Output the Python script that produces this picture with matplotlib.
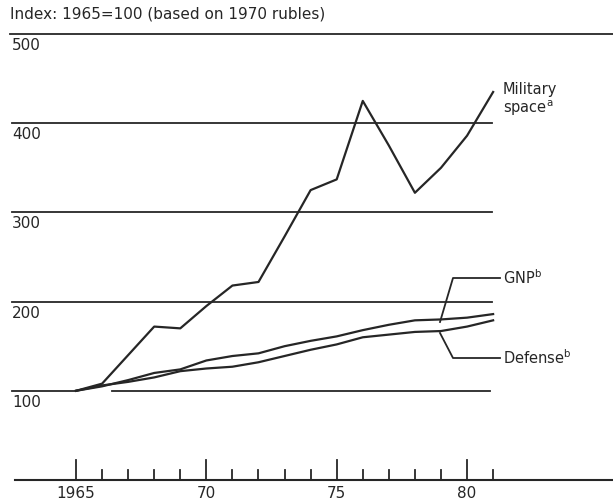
import numpy as np
import matplotlib
matplotlib.use("Agg")
import matplotlib.pyplot as plt

years = list(range(1965, 1982))
military_space = [100, 108, 140, 172, 170, 195, 218, 222, 273, 325, 337, 425, 375, 322, 350, 386, 435]
gnp = [100, 105, 112, 120, 124, 134, 139, 142, 150, 156, 161, 168, 174, 179, 180, 182, 186]
defense = [100, 106, 110, 115, 122, 125, 127, 132, 139, 146, 152, 160, 163, 166, 167, 172, 179]

grid_values = [100, 200, 300, 400, 500]
tick_years = [1965, 1970, 1975, 1980]
tick_labels = ["1965", "70", "75", "80"]

ink = "#262626"
plt.rcParams['font.family'] = ['DejaVu Sans']

# pixel mapping of the scan: 1965 at x=76, 26.07 px per year; 0 at y=480, 0.892 px per unit
px_year = 26.07
px_unit = 0.892
def yr(px):
    return 1965 + (px - 76) / px_year
def val(py):
    return (480 - py) / px_unit

fig = plt.figure(figsize=(6.13, 5.03), dpi=100)
ax = fig.add_axes([0, 0, 1, 1])
ax.set_xlim(yr(0), yr(613))
ax.set_ylim(val(503), val(0))
ax.axis('off')

# gridlines
for g in grid_values:
    if g == 500:
        ax.plot([yr(10), yr(613)], [g, g], color=ink, lw=1.3)
    elif g == 100:
        ax.plot([yr(12), 1965], [g, g], color=ink, lw=1.3)
        ax.plot([1966.4, yr(490)], [g, g], color=ink, lw=1.3)
    else:
        ax.plot([yr(12), yr(492)], [g, g], color=ink, lw=1.3)
    ax.text(yr(12), g - 4 / px_unit, str(g), ha='left', va='top', fontsize=11, color=ink)

# x axis
ax.plot([yr(15), yr(613)], [0, 0], color=ink, lw=1.5)
for y in range(1965, 1982):
    h = 22 if y in tick_years else 11
    ax.plot([y, y], [0, h], color=ink, lw=1.3)
for y, lab in zip(tick_years, tick_labels):
    ax.text(y, val(493), lab, ha='center', va='center', fontsize=11, color=ink)

# series
ax.plot(years, military_space, color=ink, lw=1.6)
ax.plot(years, gnp, color=ink, lw=1.6)
ax.plot(years, defense, color=ink, lw=1.6)

# labels and pointers
ax.text(yr(503), val(100), "Military\nspace$^{\\mathregular{a}}$", ha='left', va='center',
        fontsize=10.5, color=ink, linespacing=1.1)
ax.plot([yr(440), yr(453), yr(500)], [val(322), val(278), val(278)], color=ink, lw=1.3)
ax.text(yr(503), val(278), "GNP$^{\\mathregular{b}}$", ha='left', va='center', fontsize=10.5, color=ink)
ax.plot([yr(440), yr(453), yr(500)], [val(333), val(358), val(358)], color=ink, lw=1.3)
ax.text(yr(503), val(358), "Defense$^{\\mathregular{b}}$", ha='left', va='center', fontsize=10.5, color=ink)

# title
ax.text(yr(10), val(14), "Index: 1965=100 (based on 1970 rubles)", ha='left', va='center',
        fontsize=11, color=ink)

fig.savefig("out.png", dpi=100)
